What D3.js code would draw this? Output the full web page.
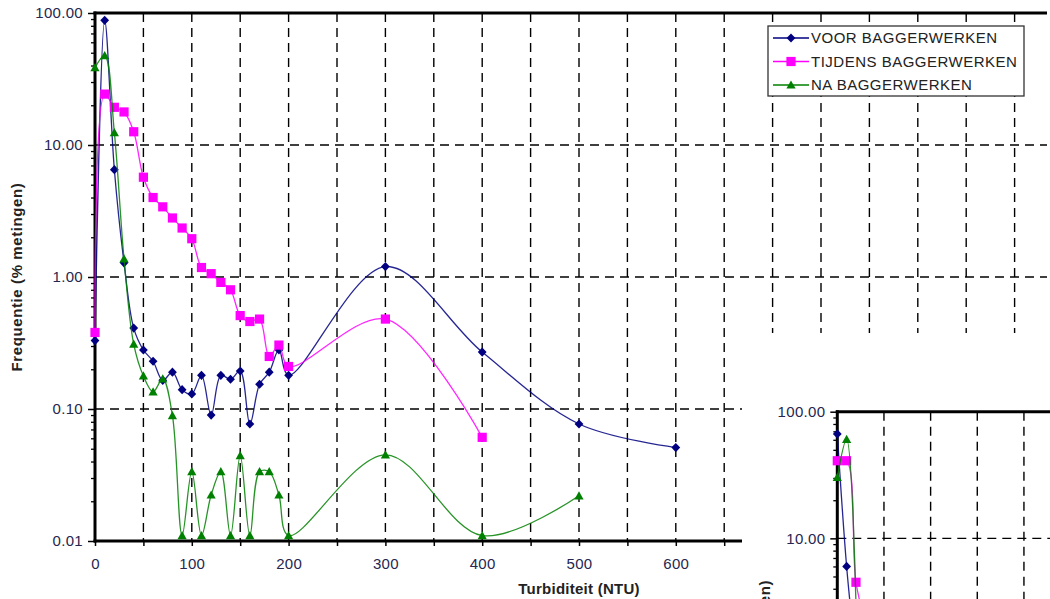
<!DOCTYPE html>
<html>
<head>
<meta charset="utf-8">
<script src="https://cdn.jsdelivr.net/npm/d3@7"></script>
<style>
  body { margin: 0; background: #fff; }
  text { font-family: "Liberation Sans", Arial, sans-serif; }
</style>
</head>
<body>
<div id="canvas"></div>
<script>
"use strict"

/* turbidity classes (NTU) per series */
let voorX = [0, 10, 20, 30, 40, 50, 60, 70, 80, 90, 100, 110, 120, 130, 140, 150, 160, 170, 180, 190, 200, 300, 400, 500, 600];
let tijdensX = [0, 10, 20, 30, 40, 50, 60, 70, 80, 90, 100, 110, 120, 130, 140, 150, 160, 170, 180, 190, 200, 300, 400];
let naX = [0, 10, 20, 30, 40, 50, 60, 70, 80, 90, 100, 110, 120, 130, 140, 150, 160, 170, 180, 190, 200, 300, 400, 500];

/* frequency (% metingen) */
let voorValues = [0.33, 88, 6.5, 1.28, 0.41, 0.28, 0.23, 0.165, 0.19, 0.14, 0.13, 0.18, 0.09, 0.18, 0.168, 0.194, 0.077, 0.154, 0.19, 0.28, 0.18, 1.2, 0.27, 0.077, 0.051];
let tijdensValues = [0.38, 24.3, 19.3, 17.8, 12.6, 5.7, 4.0, 3.4, 2.8, 2.35, 1.95, 1.18, 1.06, 0.91, 0.8, 0.51, 0.46, 0.48, 0.25, 0.305, 0.21, 0.48, 0.061];
let naValues = [38.5, 47.5, 12.4, 1.37, 0.31, 0.178, 0.135, 0.169, 0.089, 0.011, 0.0335, 0.011, 0.0223, 0.0335, 0.011, 0.0443, 0.011, 0.0335, 0.0335, 0.0223, 0.011, 0.045, 0.011, 0.022];

/* second (cut off) chart */
let insetVoorX = [0, 10, 20];
let insetVoorValues = [66.7, 6.0, 1.1];
let insetTijdensX = [0, 10, 20, 30];
let insetTijdensValues = [41, 41, 4.5, 2.2];
let insetNaX = [0, 10, 20];
let insetNaValues = [30.3, 60.5, 3.0];

/* ticks and labels */
let xGridValues = [50, 100, 150, 200, 250, 300, 350, 400, 450, 500, 550, 600, 650, 700, 750, 800, 850, 900, 950];
let xTickValues = [0, 50, 100, 150, 200, 250, 300, 350, 400, 450, 500, 550, 600, 650];
let yTickValues = [0.01, 0.1, 1, 10, 100];
let insetGridValues = [50, 100, 150, 200];
let insetYTickValues = [10, 100];
let seriesNames = ["VOOR BAGGERWERKEN", "TIJDENS BAGGERWERKEN", "NA BAGGERWERKEN"];
let xTitle = "Turbiditeit (NTU)";
let yTitle = "Frequentie (% metingen)";

let seriesColors = ["#000080", "#ff00ff", "#008000"];
let seriesShapes = ["diamond", "square", "triangle"];

let drawing = d3.select("#canvas")
    .append("svg")
    .attr("width", 1050)
    .attr("height", 599);

let tickColor = "#262650";

function markerPath(shape) {
  if (shape === "diamond") return "M0,-4.6L4.4,0L0,4.6L-4.4,0Z";
  if (shape === "square") return "M-4.6,-4.6h9.2v9.2h-9.2Z";
  return "M0,-4.6L4.6,3.6L-4.6,3.6Z";
}

function drawSeries(group, xs, ys, idx, xScale, yScale) {
  let pts = xs.map((d, i) => [xScale(d), yScale(ys[i])]);
  group.append("path")
    .attr("d", d3.line().curve(d3.curveCatmullRom.alpha(0.5))(pts))
    .attr("fill", "none")
    .attr("stroke", seriesColors[idx])
    .attr("stroke-width", 1.3)
    .attr("stroke-opacity", 0.85);
  group.selectAll(null)
    .data(pts)
    .enter()
    .append("path")
    .attr("d", markerPath(seriesShapes[idx]))
    .attr("transform", d => "translate(" + d[0] + "," + d[1] + ")")
    .attr("fill", seriesColors[idx]);
}

/* ---------- main chart ---------- */
let x = d3.scaleLinear().domain([0, 1000]).range([95, 1063]);
let y = d3.scaleLog().domain([0.01, 100]).range([541, 13]);
let plotRight = 1047;

/* gridlines */
drawing.append("g")
  .selectAll("line")
  .data(xGridValues.filter(d => x(d) < plotRight))
  .enter()
  .append("line")
  .attr("x1", d => x(d)).attr("x2", d => x(d))
  .attr("y1", y(100)).attr("y2", y(0.01))
  .attr("stroke", "#000")
  .attr("stroke-width", 1.4)
  .attr("stroke-dasharray", "9,6");

drawing.append("g")
  .selectAll("line")
  .data([0.1, 1, 10])
  .enter()
  .append("line")
  .attr("x1", x(0)).attr("x2", plotRight)
  .attr("y1", d => y(d)).attr("y2", d => y(d))
  .attr("stroke", "#000")
  .attr("stroke-width", 1.4)
  .attr("stroke-dasharray", "9,6");

/* y axis: minor + major ticks */
drawing.append("g")
  .attr("transform", "translate(" + x(0) + ",0)")
  .call(d3.axisLeft(y).tickValues(y.ticks().filter(d => yTickValues.indexOf(d) < 0)).tickSize(4).tickFormat(""))
  .call(g => g.select(".domain").remove())
  .call(g => g.selectAll("line").attr("stroke-width", 1.3));

drawing.append("g")
  .attr("transform", "translate(" + x(0) + ",0)")
  .call(d3.axisLeft(y).tickValues(yTickValues).tickSize(7).tickPadding(5).tickFormat(d3.format(".2f")))
  .call(g => g.select(".domain").remove())
  .call(g => g.selectAll("line").attr("stroke-width", 1.5))
  .call(g => g.selectAll("text")
    .attr("font-size", 15).attr("letter-spacing", 0.3)
    .attr("font-family", "Liberation Sans, Arial, sans-serif")
    .attr("fill", tickColor));

/* x axis */
drawing.append("g")
  .attr("transform", "translate(0," + y(0.01) + ")")
  .call(d3.axisBottom(x).tickValues(xTickValues).tickSize(5).tickPadding(12)
    .tickFormat(d => d % 100 === 0 ? d : ""))
  .call(g => g.select(".domain").remove())
  .call(g => g.selectAll("line").attr("stroke-width", 1.5))
  .call(g => g.selectAll("text")
    .attr("font-size", 15).attr("letter-spacing", 0.3)
    .attr("font-family", "Liberation Sans, Arial, sans-serif")
    .attr("fill", tickColor));

/* axis lines and top border */
drawing.append("line")
  .attr("x1", x(0)).attr("x2", x(0))
  .attr("y1", y(100) - 1.5).attr("y2", y(0.01) + 1.5)
  .attr("stroke", "#000").attr("stroke-width", 3);
drawing.append("line")
  .attr("x1", x(0) - 1.5).attr("x2", plotRight)
  .attr("y1", y(0.01)).attr("y2", y(0.01))
  .attr("stroke", "#000").attr("stroke-width", 3);
drawing.append("line")
  .attr("x1", x(0) - 1.5).attr("x2", plotRight)
  .attr("y1", y(100)).attr("y2", y(100))
  .attr("stroke", "#000").attr("stroke-width", 3);

/* series */
let mainSeries = drawing.append("g");
drawSeries(mainSeries, voorX, voorValues, 0, x, y);
drawSeries(mainSeries, tijdensX, tijdensValues, 1, x, y);
drawSeries(mainSeries, naX, naValues, 2, x, y);

/* axis titles */
drawing.append("text")
  .attr("x", x(500))
  .attr("y", 594)
  .attr("text-anchor", "middle")
  .attr("font-size", 15)
  .attr("font-weight", "bold")
  .attr("letter-spacing", 0.25)
  .attr("fill", "#222")
  .text(xTitle);

drawing.append("text")
  .attr("transform", "translate(22,277) rotate(-90)")
  .attr("text-anchor", "middle")
  .attr("font-size", 15)
  .attr("font-weight", "bold")
  .attr("letter-spacing", 0.6)
  .attr("fill", "#222")
  .text(yTitle);

/* ---------- second chart, overlapping lower right ---------- */
drawing.append("rect")
  .attr("x", 742).attr("y", 333)
  .attr("width", 308).attr("height", 266)
  .attr("fill", "#fff");

let x2 = d3.scaleLinear().domain([0, 250]).range([837.3, 1070.6]);
let y2 = d3.scaleLog().domain([1, 100]).range([665, 411.7]);

drawing.append("g")
  .selectAll("line")
  .data(insetGridValues)
  .enter()
  .append("line")
  .attr("x1", d => x2(d)).attr("x2", d => x2(d))
  .attr("y1", y2(100)).attr("y2", 599)
  .attr("stroke", "#000")
  .attr("stroke-width", 1.4)
  .attr("stroke-dasharray", "9,6");

drawing.append("line")
  .attr("x1", x2(0)).attr("x2", 1050)
  .attr("y1", y2(10)).attr("y2", y2(10))
  .attr("stroke", "#000")
  .attr("stroke-width", 1.4)
  .attr("stroke-dasharray", "9,6");

drawing.append("g")
  .attr("transform", "translate(" + x2(0) + ",0)")
  .call(d3.axisLeft(y2).tickValues(y2.ticks().filter(d => insetYTickValues.indexOf(d) < 0)).tickSize(4).tickFormat(""))
  .call(g => g.select(".domain").remove())
  .call(g => g.selectAll("line").attr("stroke-width", 1.3));

drawing.append("g")
  .attr("transform", "translate(" + x2(0) + ",0)")
  .call(d3.axisLeft(y2).tickValues(insetYTickValues).tickSize(7).tickPadding(5).tickFormat(d3.format(".2f")))
  .call(g => g.select(".domain").remove())
  .call(g => g.selectAll("line").attr("stroke-width", 1.5))
  .call(g => g.selectAll("text")
    .attr("font-size", 15).attr("letter-spacing", 0.3)
    .attr("font-family", "Liberation Sans, Arial, sans-serif")
    .attr("fill", tickColor));

drawing.append("line")
  .attr("x1", x2(0)).attr("x2", x2(0))
  .attr("y1", y2(100) - 1.5).attr("y2", 599)
  .attr("stroke", "#000").attr("stroke-width", 3);
drawing.append("line")
  .attr("x1", x2(0) - 1.5).attr("x2", 1050)
  .attr("y1", y2(100)).attr("y2", y2(100))
  .attr("stroke", "#000").attr("stroke-width", 3);

let insetSeries = drawing.append("g");
drawSeries(insetSeries, insetVoorX, insetVoorValues, 0, x2, y2);
drawSeries(insetSeries, insetTijdensX, insetTijdensValues, 1, x2, y2);
drawSeries(insetSeries, insetNaX, insetNaValues, 2, x2, y2);

/* the second chart's y title runs off the bottom edge, as in the source */
drawing.append("text")
  .attr("transform", "translate(770,580) rotate(-90)")
  .attr("text-anchor", "end")
  .attr("font-size", 15)
  .attr("font-weight", "bold")
  .attr("letter-spacing", 0.6)
  .attr("fill", "#222")
  .text(yTitle);

/* ---------- legend ---------- */
let legend = drawing.append("g");
legend.append("rect")
  .attr("x", 768).attr("y", 26)
  .attr("width", 256).attr("height", 70)
  .attr("fill", "#fff")
  .attr("stroke", "#333")
  .attr("stroke-width", 1.3);

seriesNames.forEach((name, i) => {
  let ly = 38 + i * 23.5;
  legend.append("line")
    .attr("x1", 773).attr("x2", 809)
    .attr("y1", ly).attr("y2", ly)
    .attr("stroke", seriesColors[i])
    .attr("stroke-width", 1.3);
  legend.append("path")
    .attr("d", markerPath(seriesShapes[i]))
    .attr("transform", "translate(791," + ly + ")")
    .attr("fill", seriesColors[i]);
  legend.append("text")
    .attr("x", 811)
    .attr("y", ly)
    .attr("dy", "0.36em")
    .attr("font-size", 15)
    .attr("letter-spacing", 0.5)
    .attr("fill", "#222")
    .text(name);
});
</script>
</body>
</html>
